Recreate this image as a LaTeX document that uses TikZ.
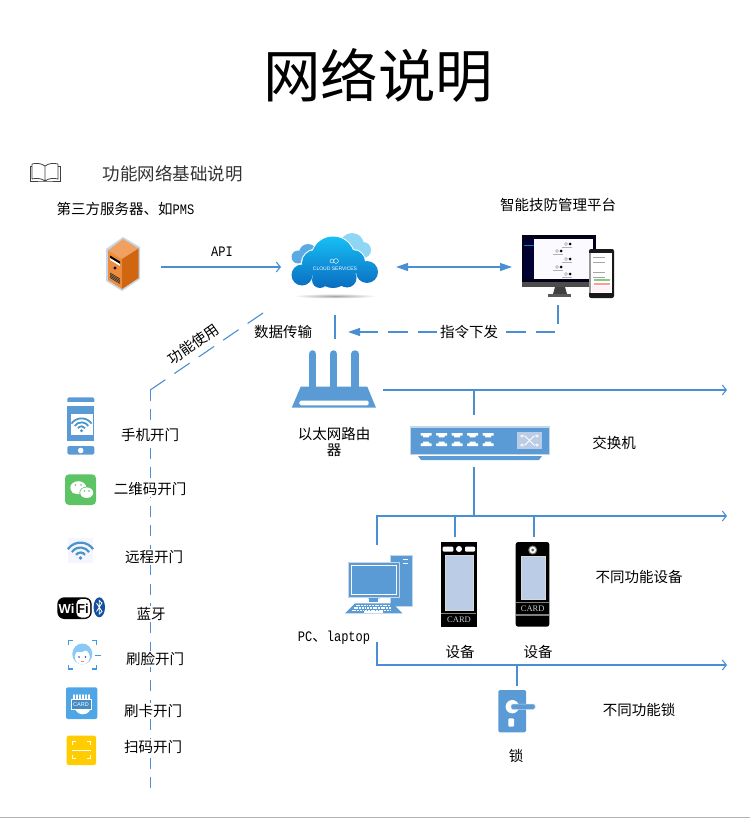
\documentclass[tikz,border=0pt]{standalone}
\usepackage{fontspec}
\setmainfont{Noto Sans CJK SC}
\newfontfamily\monof[FakeStretch=0.83]{Liberation Mono}
\newfontfamily\latf{Liberation Sans}
\newfontfamily\serf{Liberation Serif}
\usetikzlibrary{positioning}
\usetikzlibrary{arrows.meta}
\definecolor{lineblue}{HTML}{4A8FD4}
\definecolor{iconblue}{HTML}{5B9BD5}
\definecolor{wifiblue}{HTML}{4A94C8}
\definecolor{pale}{HTML}{BBCDE6}
\definecolor{edgepale}{HTML}{C4D6E8}
\definecolor{cloudtop}{HTML}{17BFF5}
\definecolor{cloudbot}{HTML}{0A6CC0}
\definecolor{cloudr}{HTML}{8FD6F5}
\definecolor{cloudl}{HTML}{5BAAE3}
\definecolor{srvtop}{HTML}{F0A060}
\definecolor{srvleft}{HTML}{EC8C3C}
\definecolor{srvright}{HTML}{D0660F}
\definecolor{wechat}{HTML}{5DC466}
\definecolor{facebl}{HTML}{3D9BE8}
\definecolor{hairbl}{HTML}{8CC8F5}
\definecolor{cardbl}{HTML}{4FA6E6}
\definecolor{scanyl}{HTML}{FFCC00}
\definecolor{btblue}{HTML}{1450A0}
\tikzset{
    mytext/.style = {inner sep=1pt,align=center,font=\fontsize{14.5}{16}\selectfont},
    mytextw/.style = {mytext,fill=white},
    myspot/.style = {inner sep=0pt,outer sep=0pt,minimum width=#1},
    edgen/.style = {lineblue,line width=1.1pt},
    edgea/.style = {edgen,-{Straight Barb[length=4pt,width=10pt]}},
    edgeb/.style = {edgen,{Triangle[length=12pt,width=8pt]}-{Triangle[length=12pt,width=8pt]}},
    edgec/.style = {edgen,-{Triangle[length=12pt,width=8pt]},dash pattern=on 19.5pt off 10pt},
    edged/.style = {edgen,dash pattern=on 18.6pt off 11pt},
    edgev/.style = {edgen,dash pattern=on 11pt off 8.35pt},
    tinyw/.style = {inner sep=0pt,text=white,font=\fontsize{5.5}{6}\serf},
    cardt/.style = {inner sep=0pt,text=white!80!black,font=\fontsize{8.5}{10}\serf}
}
\newcommand{\wifimark}[3]{%
  \begin{scope}[shift={(#1,#2)},scale=#3]
    \fill[wifiblue] (0,0) circle (1.8);
    \foreach \r in {5,9.5,14} {
      \draw[wifiblue,line width=#3*2pt] (0,0) ++(215:\r) arc (215:325:\r);
    }
  \end{scope}
}
\begin{document}
\begin{tikzpicture}[x=1pt,y=-1pt]
\path[use as bounding box] (0,0) rectangle (750,818);
%
% texts
\node[inner sep=0pt,font=\fontsize{57.5}{60}\selectfont] at (378,75) (title) {网络说明};
\node[inner sep=0pt,font=\fontsize{17.5}{20}\selectfont,text=black!80] at (172.5,174) (heading) {功能网络基础说明};
\node[mytext] at (125.5,209) (thirdlbl) {第三方服务器、如{\monof PMS}};
\node[mytext] at (558,205) (platlbl) {智能技防管理平台};
\node[mytext] at (222,252) (apilbl) {\monof API};
\node[mytext] at (283,332) (datalbl) {数据传输};
\node[mytext,rotate=35] at (193,344) (uselbl) {功能使用};
\node[mytext] at (334,442) (routerlbl) {以太网路由\\器};
\node[mytext] at (614,443) (switchlbl) {交换机};
\node[mytext] at (639,577) (devlbl) {不同功能设备};
\node[mytext] at (334,637.5) (pclbl) {{\monof PC}、{\monof laptop}};
\node[mytext] at (460,652) (dev1lbl) {设备};
\node[mytext] at (538,652) (dev2lbl) {设备};
\node[mytext] at (639,710) (locklbl) {不同功能锁};
\node[mytext] at (516,756) (lock1lbl) {锁};
%
% places of the icons, the connectors end on them
\node[myspot=54pt,minimum height=56pt] at (134,267) (server) {};
\node[myspot=108pt,minimum height=96pt] at (335,267) (cloud) {};
\node[myspot=92pt,minimum height=76pt] at (558,267) (platform) {};
\node[myspot=96pt,minimum height=102pt] at (335,390) (router) {};
\node[myspot=140pt,minimum height=52pt] at (474,441) (switch) {};
\node[myspot=80pt,minimum height=97pt] at (377,593.5) (pc) {};
\node[myspot=36pt,minimum height=96pt] at (455,585) (reader) {};
\node[myspot=36pt,minimum height=96pt] at (534,585) (readerb) {};
\node[myspot=38pt,minimum height=50pt] at (517,711) (lock) {};
%
\coordinate (cmdturn) at (558,324);
\coordinate (cmdstart) at (555,332);
\coordinate (cmdend) at (348,332);
\coordinate (routerend) at (727,390);
\coordinate (busaend) at (727,516);
\coordinate (busbend) at (727,665);
\coordinate (usetop) at (263,313);
\coordinate (usebend) at (150.3,390);
\coordinate (usebot) at (150.3,788);
%
% connectors
\draw[edgen] (cloud.south) -- (router.north);
\draw[edgea] (server.east) -- (cloud.west);
\draw[edgeb,shorten <=7pt] (cloud.east) -- (platform.west);
\draw[edgen] (platform.south) -- (cmdturn);
\draw[edgec] (cmdstart) -- (cmdend);
\draw[edgea] (router.east) -- (routerend);
\draw[edgen] (router.east -| switch.north) -- (switch.north);
\draw[edgen] (switch.south) -- (switch.south |- busaend);
\draw[edgea] (pc.north) |- (busaend);
\draw[edgen] (reader.north |- busaend) -- (reader.north);
\draw[edgen] (readerb.north |- busaend) -- (readerb.north);
\draw[edgea] (pc.south) |- (busbend);
\draw[edgen] (lock.north |- busbend) -- (lock.north);
\draw[edged] (usetop) -- (usebend);
\draw[edgev] (usebend) -- (usebot);
%
% white gaps in the connectors
\fill[white] (438,322) rectangle (500,342);
%
\node[mytext] at (469,332) (cmdlbl) {指令下发};
\node[mytextw] at (150,435) (openphone) {手机开门};
\node[mytextw] at (150,489) (openqr) {二维码开门};
\node[mytextw] at (154,557) (openremote) {远程开门};
\node[mytextw] at (151,614) (openblue) {蓝牙};
\node[mytextw] at (155,659) (openface) {刷脸开门};
\node[mytextw] at (153,711) (opencard) {刷卡开门};
\node[mytextw] at (153,747) (openscan) {扫码开门};
%
% book
\draw[black!75,line width=0.8pt,line join=round] (45,166) .. controls (41,163) and (36,163) .. (32,164) -- (32,179) .. controls (36,178) and (41,178) .. (45,181) .. controls (49,178) and (54,178) .. (58,179) -- (58,164) .. controls (54,163) and (49,163) .. (45,166) -- (45,181);
\draw[black!75,line width=0.8pt] (32,166) -- (30,166) -- (30,181) -- (45,181) -- (60,181) -- (60,166) -- (58,166);
%
% server
\fill[edgepale] (123,237) -- (140,247) -- (140,279) -- (122,291) -- (106,281) -- (106,249) -- cycle;
\fill[srvtop] (123,239) -- (138.5,248.5) -- (122,259) -- (108,250.5) -- cycle;
\fill[srvleft] (108,250.5) -- (122,259) -- (122,289) -- (108,280) -- cycle;
\fill[srvright] (122,259) -- (138.5,248.5) -- (138.5,278) -- (122,289) -- cycle;
\fill[black] (110,255.5) -- (120,261.5) -- (120,265) -- (110,259) -- cycle;
\fill[white] (110,258) -- (120,264) -- (120,266) -- (110,260) -- cycle;
\fill[black!70!blue] (115,268) circle (1.7);
\foreach \k in {0,1.5,3,4.5} {
  \draw[black!80,line width=0.7pt] (110,273+\k) -- (120,279+\k);
}
%
% cloud
\fill[white] (352,245) circle (13) (363,250) circle (9) (308,253) circle (10) (298,257) circle (7.5);
\fill[cloudr] (352,245) circle (12) (363,250) circle (8) (341,250) circle (8);
\fill[cloudl] (308,253) circle (9) (298,257) circle (6.5) (317,252) circle (6);
\fill[white] (333,258) circle (22.5) (315,263) circle (14) (353,262) circle (13) (302,275) circle (11.5) (367,272) circle (12);
\shade[top color=cloudtop,bottom color=cloudbot] (333,258) circle (21.5) (315,263) circle (13) (353,262) circle (12) (302,275) circle (10.5) (367,272) circle (11) (320,280) circle (8) (347,278) circle (9.5) (333,278) circle (10) (333,270) circle (18);
\node[tinyw,font=\fontsize{5}{6}\latf] at (335,269) (cloudtxt) {CLOUD SERVICES};
\draw[white,line width=0.4pt] (332,261) circle (2) (336,261) circle (2.4);
\shade[inner color=black!35,outer color=white] (335,296) ellipse (42 and 2.5);
%
% platform
\fill[black!90!blue] (522,235) rectangle (596,287);
\fill[black!4!blue!2] (534,238.5) rectangle (593,278.5);
\fill[black!80!blue] (523.5,238.5) rectangle (534,278.5);
\fill[cyan!60!blue] (523.5,244.5) rectangle (534,245.5);
\fill[black!70] (522,282) rectangle (596,287);
\fill[black!75] (555,287) -- (565,287) -- (567,294) -- (553,294) -- cycle;
\fill[black!65] (548,294) rectangle (571,297);
\foreach \a/\b in {570/244,561/251,570/259,561/267,570/274} {
  \fill[black] (\a,\b) circle (1.5);
  \draw[black!35,line width=0.4pt] (\a-4,\b) circle (1.5);
  \draw[black!30,line width=0.4pt] (\a-8,\b+3) -- (\a+2,\b+3);
}
\fill[black!90,rounded corners=2pt] (589,249) rectangle (614,298);
\fill[white] (591,253) rectangle (612,293);
\fill[black!40] (589,253) rectangle (590.5,293);
\foreach \b in {257,262,272,277} {
  \draw[black!35,line width=0.4pt] (593,\b) -- (605,\b);
}
\fill[green!60!black!50] (594,279) rectangle (610,281);
\fill[red!40] (594,283) rectangle (610,285);
\fill[magenta!5] (592,286) rectangle (611,292);
%
% router
\foreach \a in {312.7,333.7,355} {
  \draw[iconblue,line width=7.5pt,line cap=round] (\a,354) -- (\a,390);
}
\fill[iconblue] (300.7,386.7) -- (367.3,386.7) -- (376,407.7) -- (291.7,407.7) -- cycle;
\fill[white,rounded corners=1.5pt] (299.3,400.7) rectangle (368.7,405.3);
%
% switch
\fill[edgepale] (410,426) rectangle (550,455);
\fill[iconblue] (411,427.5) rectangle (549,454);
\fill[iconblue] (418,456) -- (542,456) -- (539,460) -- (421,460) -- cycle;
\foreach \k in {0,...,4} {
  \fill[white,rounded corners=0.4pt] (420.7+15.5*\k,433) -- ++(11,0) -- ++(0,2.6) -- ++(-2.5,0) -- ++(0,1.8) -- ++(-6,0) -- ++(0,-1.8) -- ++(-2.5,0) -- cycle;
  \fill[white,rounded corners=0.4pt] (420.7+15.5*\k,446) -- ++(11,0) -- ++(0,-2.6) -- ++(-2.5,0) -- ++(0,-1.8) -- ++(-6,0) -- ++(0,1.8) -- ++(-2.5,0) -- cycle;
}
\fill[pale] (517,432) rectangle (542,449);
\draw[white,line width=0.9pt,{Stealth[length=3pt,width=3pt]}-{Stealth[length=3pt,width=3pt]}] (520,436) -- (525,436) -- (534,445) -- (539,445);
\draw[white,line width=0.9pt,{Stealth[length=3pt,width=3pt]}-{Stealth[length=3pt,width=3pt]}] (520,445) -- (525,445) -- (534,436) -- (539,436);
%
% pc
\fill[iconblue,draw=edgepale,line width=0.8pt] (390.7,555) rectangle (412,606.7);
\fill[white] (402.7,558.5) rectangle (408.3,560);
\fill[white] (402.7,562.5) rectangle (408.3,564);
\fill[edgepale] (368,597) rectangle (379.5,599);
\fill[iconblue] (369.3,597.3) rectangle (378.3,602.3);
\fill[iconblue,draw=edgepale,line width=0.8pt] (348.3,562.3) rectangle (399.3,597.3);
\draw[white,line width=0.8pt] (351.5,565.5) rectangle (396,594);
\fill[iconblue] (355,603.3) -- (392.7,603.3) -- (402.3,613.3) -- (345,613.3) -- cycle;
\foreach \b/\l/\n in {604.8/355/13,607.3/353/14,609.8/351/15} {
  \foreach \k in {1,...,\n} {
    \fill[white] (\l+2.7*\k-2,\b) rectangle ++(1.9,1.4);
  }
}
\fill[white] (364,611.4) rectangle (383,612.6);
%
% readers
\fill[black] (440.7,542) rectangle (476.7,626.7);
\fill[white,rounded corners=1pt] (442.7,546.7) rectangle (453.3,551.7);
\fill[white,rounded corners=1pt] (465,546.7) rectangle (475,551.7);
\fill[white] (459,549) circle (3);
\fill[pale,draw=white!85!black,line width=0.7pt] (445.3,555) rectangle (473.3,610);
\draw[black!50,line width=0.8pt] (441,613) -- (476.4,613);
\node[cardt] at (459,619.5) (cardone) {CARD};
%
\fill[black,rounded corners=2.5pt] (515.7,542) rectangle (549.3,626.7);
\fill[black!50] (532.7,550) circle (4.5);
\fill[white] (532.7,550) circle (3.3);
\fill[black!60] (532.7,550) circle (1.7);
\fill[pale,draw=white!85!black,line width=0.7pt] (521,556) rectangle (545,599.3);
\draw[black!50,line width=0.8pt] (516,602) -- (549,602);
\node[cardt] at (532.7,608.3) (cardtwo) {CARD};
\draw[black!50,line width=1.2pt] (516,615) -- (549,615);
%
% lock
\fill[iconblue,rounded corners=1.5pt] (498.3,690) rectangle (526,732.3);
\fill[white] (512.3,706.7) circle (6.7);
\fill[iconblue,draw=edgepale,line width=0.5pt,rounded corners=1.5pt] (511,704) rectangle (535,709.3);
\fill[white,rounded corners=1pt] (508.3,718.3) rectangle (514,726.7);
%
% phone
\fill[iconblue,rounded corners=1.5pt] (67.3,397.3) rectangle (94.3,405);
\fill[white] (67,401.7) rectangle (95,406);
\fill[iconblue] (67.3,406) rectangle (94.3,441);
\fill[iconblue,rounded corners=1.5pt] (67.3,446) rectangle (94.3,454.5);
\fill[white] (70.7,414) rectangle (93.3,435);
\fill[white] (80.7,450.5) circle (2.8);
\wifimark{81.5}{430.7}{0.88}
%
% wechat
\fill[wechat,rounded corners=4pt] (65,474.3) rectangle (96,505);
\fill[white] (78.3,487.7) ellipse (8 and 6.5);
\fill[white] (72,493) -- (74,491) -- (76,493) -- cycle;
\fill[wechat] (86.7,492.7) ellipse (7.3 and 6);
\fill[white] (86.7,492.7) ellipse (6.5 and 5.3);
\foreach \a/\b in {75.5/485,81/485,84.5/491,89/491} {
  \fill[wechat] (\a,\b) circle (0.9);
}
%
% remote
\fill[blue!4] (68,538.3) rectangle (92.7,563.3);
\wifimark{80.5}{558}{1.1}
%
% wifi logo
\fill[black,rounded corners=7pt] (57.3,597.3) rectangle (91.7,619);
\fill[white,draw=black,line width=0.8pt,rounded corners=5pt] (76,598.5) rectangle (90.7,618);
\node[inner sep=0pt,text=white,font=\fontsize{13}{14}\latf\bfseries] at (66.5,608.3) (wilogo) {Wi};
\node[inner sep=0pt,text=black,font=\fontsize{13}{14}\latf\bfseries] at (83,608.3) (filogo) {Fi};
\fill[btblue] (99.3,607.3) ellipse (5.7 and 10);
\draw[white,line width=0.8pt] (96.5,603) -- (102,611.5) -- (99.3,614) -- (99.3,600.5) -- (102,603) -- (96.5,611.5);
%
% face
\draw[facebl,line width=1.2pt] (68.3,645) |- (73,640.7) (92,640.7) -| (96.7,645) (96.7,665) |- (92,669) (73,669) -| (68.3,665) (95,655.3) -- (100.7,655.3);
\fill[hairbl] (82.3,654) ellipse (10 and 10.5);
\fill[white] (82.3,657) ellipse (7.5 and 7.5);
\fill[hairbl] (74,650) .. controls (78,654) and (86,652) .. (88,648) -- (82,645) -- cycle;
\fill[blue!50!black!80] (79,657) circle (0.8) (85.5,657) circle (0.8);
\draw[red!50,line width=0.5pt] (80.5,661) -- (84,661);
%
% card
\fill[cardbl,rounded corners=2pt] (66,687.3) rectangle (97.3,719);
\foreach \a in {74,77,80,83,86,89} {
  \draw[white,line width=1.8pt,line cap=round] (\a,695) -- (\a,705);
}
\fill[white] (74.5,705) rectangle (91.2,708);
\fill[white] (74.5,706) arc (180:0:8.35) -- cycle;
\fill[cardbl!85!black,draw=white,line width=0.5pt] (71.7,699.3) rectangle (91.7,709.3);
\node[tinyw,font=\fontsize{5.5}{6}\latf] at (81,704.3) (cardicon) {CARD};
%
% scan
\fill[scanyl,rounded corners=2pt] (66.7,735.7) rectangle (96,765);
\draw[white,line width=0.9pt] (72.3,745) |- (75.5,741.7) (87,741.7) -| (90,745) (90,755) |- (87,758.3) (75.5,758.3) -| (72.3,755);
\draw[white,line width=0.9pt] (72.3,750) -- (91,750);
%
\fill[black!30] (0,817) rectangle (750,818);
\end{tikzpicture}
\end{document}
